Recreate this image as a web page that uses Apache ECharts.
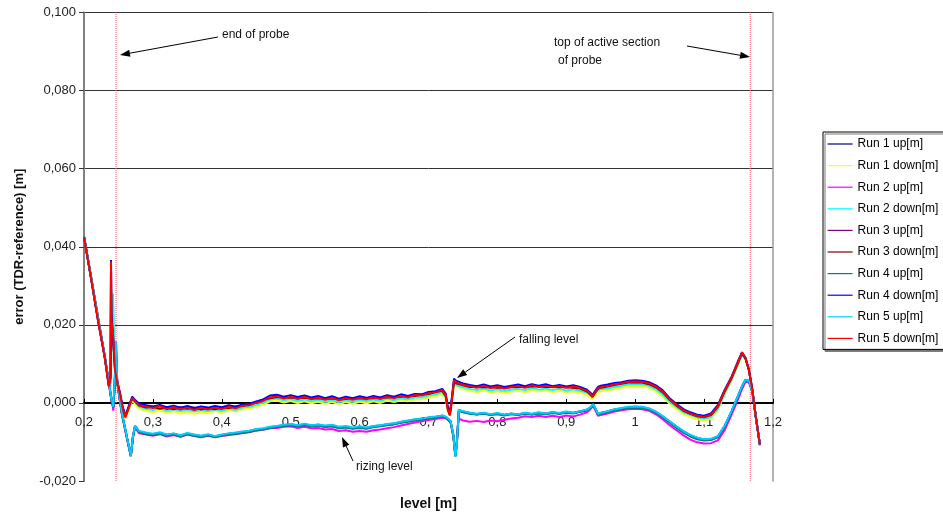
<!DOCTYPE html>
<html><head><meta charset="utf-8">
<script src="https://cdn.jsdelivr.net/npm/echarts@6/dist/echarts.min.js"></script>
<style>html,body{margin:0;padding:0;background:#fff}#c{width:943px;height:516px}</style>
</head><body><div id="c"></div>
<script>
// x values (level [m]) for falling-level ("down") runs
const levelsDown = [0.2,0.21,0.22,0.23,0.236,0.2385,0.2392,0.2398,0.242,0.245,0.248,0.252,0.256,0.26,0.265,0.27,0.275,0.28,
0.29,0.3,0.31,0.32,0.33,0.34,0.35,0.36,0.37,0.38,0.39,0.4,0.41,0.42,0.43,0.44,0.45,0.46,0.47,0.48,0.49,0.5,0.51,0.52,0.53,0.54,0.55,0.56,0.57,0.58,0.59,0.6,0.61,0.62,0.63,0.64,0.65,0.66,0.67,0.68,0.69,0.7,0.71,0.72,
0.725,0.728,0.731,0.734,0.737,
0.74,0.75,0.76,0.77,0.78,0.79,0.8,0.81,0.82,0.83,0.84,0.85,0.86,0.87,0.88,0.89,0.9,0.91,0.92,0.93,
0.935,0.938,0.942,0.946,
0.95,0.96,0.97,0.98,0.99,1,1.01,1.02,1.03,1.04,1.05,1.06,1.07,1.08,1.09,1.1,1.11,1.12,1.13,1.14,1.15,
1.155,1.16,1.165,1.17,1.175,1.181];
// x values (level [m]) for rising-level ("up") runs
const levelsUp = [0.2,0.21,0.22,0.23,0.236,0.24,0.2415,0.2425,0.2445,0.2465,0.248,0.25,0.255,0.26,0.265,0.268,0.271,0.274,0.28,
0.29,0.3,0.31,0.32,0.33,0.34,0.35,0.36,0.37,0.38,0.39,0.4,0.41,0.42,0.43,0.44,0.45,0.46,0.47,0.48,0.49,0.5,0.51,0.52,0.53,0.54,0.55,0.56,0.57,0.58,0.59,0.6,0.61,0.62,0.63,0.64,0.65,0.66,0.67,0.68,0.69,0.7,0.71,0.72,
0.726,0.732,0.736,0.739,0.741,0.744,
0.75,0.76,0.77,0.78,0.79,0.8,0.81,0.82,0.83,0.84,0.85,0.86,0.87,0.88,0.89,0.9,0.91,0.92,0.93,
0.935,0.939,0.942,0.946,
0.95,0.96,0.97,0.98,0.99,1,1.01,1.02,1.03,1.04,1.05,1.06,1.07,1.08,1.09,1.1,1.11,1.12,1.13,1.14,1.15,
1.155,1.16,1.165,1.17,1.175,1.181];

const run1Up = [0.0427,0.0325,0.0222,0.0121,0.0053,0.0006,0.0001,-0.0011,0.0045,0.0130,0.0058,0.0033,-0.0026,-0.0069,-0.0111,-0.0136,-0.0087,-0.0059,-0.0073,
-0.0078,-0.0080,-0.0077,-0.0082,-0.0079,-0.0084,-0.0079,-0.0082,-0.0085,-0.0082,-0.0086,-0.0082,-0.0079,-0.0077,-0.0075,-0.0072,-0.0068,-0.0066,-0.0062,-0.0060,-0.0057,-0.0055,-0.0058,-0.0055,-0.0058,-0.0056,-0.0060,-0.0058,-0.0063,-0.0061,-0.0064,-0.0062,-0.0064,-0.0060,-0.0058,-0.0055,-0.0053,-0.0049,-0.0046,-0.0043,-0.0041,-0.0038,-0.0036,-0.0033,
-0.0037,-0.0047,-0.0082,-0.0136,-0.0108,-0.0019,
-0.0022,-0.0026,-0.0029,-0.0026,-0.0030,-0.0027,-0.0031,-0.0028,-0.0030,-0.0026,-0.0029,-0.0025,-0.0028,-0.0024,-0.0027,-0.0023,-0.0026,-0.0022,-0.0018,
-0.0012,-0.0004,-0.0014,-0.0029,
-0.0026,-0.0022,-0.0017,-0.0014,-0.0011,-0.0010,-0.0011,-0.0015,-0.0023,-0.0035,-0.0048,-0.0061,-0.0073,-0.0083,-0.0090,-0.0094,-0.0093,-0.0086,-0.0059,-0.0021,0.0021,
0.0042,0.0059,0.0056,0.0030,-0.0035,-0.0107];
const run1Down = [0.0425,0.0322,0.0216,0.0119,0.0046,0.0055,0.0300,0.0190,0.0160,0.0078,0.0048,0.0016,-0.0020,-0.0040,-0.0018,0.0006,-0.0005,-0.0015,
-0.0020,-0.0024,-0.0019,-0.0026,-0.0021,-0.0027,-0.0022,-0.0028,-0.0023,-0.0026,-0.0021,-0.0025,-0.0019,-0.0022,-0.0016,-0.0014,-0.0009,-0.0004,0.0004,0.0006,0.0001,0.0005,0.0000,0.0004,-0.0001,0.0003,-0.0002,0.0002,-0.0003,0.0002,-0.0002,0.0003,-0.0001,0.0004,0.0000,0.0006,0.0002,0.0007,0.0004,0.0009,0.0009,0.0014,0.0017,0.0022,
0.0010,-0.0020,-0.0033,0.0004,0.0046,
0.0042,0.0036,0.0031,0.0028,0.0032,0.0027,0.0030,0.0026,0.0029,0.0031,0.0028,0.0033,0.0029,0.0032,0.0028,0.0031,0.0027,0.0030,0.0026,0.0020,
0.0014,0.0012,0.0020,0.0028,
0.0030,0.0032,0.0036,0.0039,0.0042,0.0044,0.0043,0.0039,0.0030,0.0016,-0.0002,-0.0016,-0.0028,-0.0036,-0.0042,-0.0045,-0.0040,-0.0018,0.0022,0.0058,0.0100,
0.0122,0.0111,0.0082,0.0033,-0.0036,-0.0106];
const run2Up = [0.0426,0.0324,0.0221,0.0119,0.0050,0.0003,-0.0005,-0.0020,0.0050,0.0158,0.0065,0.0030,-0.0030,-0.0072,-0.0113,-0.0136,-0.0090,-0.0062,-0.0078,
-0.0081,-0.0084,-0.0080,-0.0086,-0.0082,-0.0087,-0.0081,-0.0085,-0.0088,-0.0084,-0.0088,-0.0085,-0.0082,-0.0080,-0.0077,-0.0075,-0.0071,-0.0069,-0.0065,-0.0064,-0.0061,-0.0060,-0.0064,-0.0061,-0.0065,-0.0064,-0.0068,-0.0067,-0.0072,-0.0070,-0.0074,-0.0072,-0.0074,-0.0070,-0.0068,-0.0065,-0.0062,-0.0058,-0.0054,-0.0050,-0.0047,-0.0044,-0.0041,-0.0038,
-0.0040,-0.0050,-0.0082,-0.0132,-0.0100,-0.0040,
-0.0045,-0.0048,-0.0046,-0.0049,-0.0045,-0.0047,-0.0043,-0.0040,-0.0038,-0.0034,-0.0036,-0.0033,-0.0036,-0.0033,-0.0036,-0.0032,-0.0035,-0.0030,-0.0024,
-0.0016,-0.0008,-0.0018,-0.0033,
-0.0031,-0.0027,-0.0022,-0.0019,-0.0016,-0.0015,-0.0016,-0.0020,-0.0029,-0.0042,-0.0057,-0.0070,-0.0083,-0.0094,-0.0101,-0.0104,-0.0103,-0.0096,-0.0069,-0.0030,0.0012,
0.0035,0.0054,0.0053,0.0029,-0.0036,-0.0108];
const run2Down = [0.0426,0.0323,0.0217,0.0120,0.0048,0.0040,0.0080,0.0120,0.0280,0.0090,0.0050,0.0020,-0.0016,-0.0034,-0.0015,0.0010,0.0000,-0.0010,
-0.0015,-0.0018,-0.0014,-0.0020,-0.0016,-0.0021,-0.0017,-0.0022,-0.0018,-0.0021,-0.0017,-0.0020,-0.0015,-0.0018,-0.0012,-0.0010,-0.0005,0.0001,0.0009,0.0011,0.0007,0.0010,0.0005,0.0009,0.0004,0.0008,0.0003,0.0007,0.0002,0.0007,0.0003,0.0008,0.0004,0.0009,0.0005,0.0011,0.0007,0.0012,0.0009,0.0014,0.0014,0.0019,0.0022,0.0027,
0.0015,-0.0012,-0.0022,0.0014,0.0050,
0.0046,0.0040,0.0036,0.0033,0.0037,0.0032,0.0035,0.0031,0.0034,0.0036,0.0033,0.0038,0.0034,0.0037,0.0033,0.0036,0.0032,0.0035,0.0031,0.0026,
0.0020,0.0018,0.0025,0.0033,
0.0035,0.0037,0.0041,0.0044,0.0047,0.0049,0.0048,0.0044,0.0035,0.0021,0.0003,-0.0011,-0.0024,-0.0031,-0.0037,-0.0040,-0.0036,-0.0015,0.0024,0.0060,0.0102,
0.0124,0.0113,0.0084,0.0034,-0.0036,-0.0107];
const run3Up = [0.0426,0.0324,0.0222,0.0120,0.0054,0.0007,0.0001,-0.0011,0.0050,0.0140,0.0058,0.0032,-0.0027,-0.0069,-0.0111,-0.0136,-0.0086,-0.0060,-0.0074,
-0.0079,-0.0081,-0.0078,-0.0083,-0.0080,-0.0085,-0.0079,-0.0083,-0.0086,-0.0082,-0.0086,-0.0083,-0.0080,-0.0078,-0.0076,-0.0073,-0.0069,-0.0067,-0.0063,-0.0061,-0.0058,-0.0056,-0.0059,-0.0056,-0.0059,-0.0057,-0.0061,-0.0059,-0.0064,-0.0062,-0.0065,-0.0063,-0.0065,-0.0061,-0.0059,-0.0056,-0.0054,-0.0050,-0.0047,-0.0044,-0.0042,-0.0039,-0.0037,-0.0034,
-0.0038,-0.0048,-0.0083,-0.0137,-0.0107,-0.0019,
-0.0023,-0.0027,-0.0029,-0.0027,-0.0030,-0.0028,-0.0031,-0.0028,-0.0030,-0.0027,-0.0029,-0.0026,-0.0028,-0.0025,-0.0027,-0.0024,-0.0026,-0.0022,-0.0018,
-0.0012,-0.0004,-0.0014,-0.0029,
-0.0027,-0.0023,-0.0018,-0.0015,-0.0012,-0.0011,-0.0012,-0.0016,-0.0024,-0.0036,-0.0049,-0.0062,-0.0074,-0.0084,-0.0091,-0.0095,-0.0094,-0.0087,-0.0060,-0.0022,0.0020,
0.0042,0.0059,0.0056,0.0030,-0.0035,-0.0107];
const run3Down = [0.0424,0.0323,0.0215,0.0119,0.0044,0.0065,0.0350,0.0205,0.0175,0.0083,0.0054,0.0024,-0.0013,-0.0036,-0.0011,0.0012,0.0002,-0.0007,
-0.0012,-0.0010,-0.0015,-0.0012,-0.0016,-0.0011,-0.0015,-0.0012,-0.0017,-0.0013,-0.0016,-0.0012,-0.0013,-0.0009,-0.0008,-0.0003,0.0002,0.0008,0.0012,0.0015,0.0013,0.0014,0.0012,0.0013,0.0011,0.0012,0.0010,0.0011,0.0009,0.0010,0.0011,0.0011,0.0012,0.0012,0.0013,0.0014,0.0015,0.0016,0.0017,0.0018,0.0021,0.0023,0.0028,0.0031,
0.0018,-0.0018,-0.0032,0.0006,0.0055,
0.0050,0.0045,0.0041,0.0041,0.0040,0.0040,0.0039,0.0039,0.0040,0.0041,0.0041,0.0042,0.0042,0.0041,0.0041,0.0040,0.0040,0.0039,0.0037,0.0029,
0.0021,0.0015,0.0026,0.0036,
0.0039,0.0042,0.0046,0.0049,0.0052,0.0053,0.0052,0.0048,0.0040,0.0027,0.0008,-0.0007,-0.0020,-0.0028,-0.0034,-0.0037,-0.0031,-0.0010,0.0030,0.0064,0.0106,
0.0127,0.0114,0.0084,0.0033,-0.0036,-0.0106];
const run4Up = [0.0426,0.0324,0.0221,0.0121,0.0052,0.0005,0.0000,-0.0012,0.0040,0.0120,0.0055,0.0030,-0.0028,-0.0070,-0.0112,-0.0135,-0.0088,-0.0061,-0.0075,
-0.0080,-0.0082,-0.0079,-0.0084,-0.0081,-0.0086,-0.0080,-0.0084,-0.0087,-0.0083,-0.0087,-0.0084,-0.0081,-0.0079,-0.0077,-0.0074,-0.0070,-0.0068,-0.0064,-0.0062,-0.0059,-0.0057,-0.0060,-0.0057,-0.0060,-0.0058,-0.0062,-0.0060,-0.0065,-0.0063,-0.0066,-0.0064,-0.0066,-0.0062,-0.0060,-0.0057,-0.0055,-0.0051,-0.0048,-0.0045,-0.0043,-0.0040,-0.0038,-0.0035,
-0.0039,-0.0049,-0.0085,-0.0135,-0.0105,-0.0020,
-0.0024,-0.0028,-0.0030,-0.0028,-0.0031,-0.0029,-0.0032,-0.0029,-0.0031,-0.0028,-0.0030,-0.0027,-0.0029,-0.0026,-0.0028,-0.0025,-0.0027,-0.0023,-0.0019,
-0.0013,-0.0005,-0.0015,-0.0030,
-0.0028,-0.0024,-0.0019,-0.0016,-0.0013,-0.0012,-0.0013,-0.0017,-0.0025,-0.0037,-0.0050,-0.0064,-0.0076,-0.0086,-0.0093,-0.0096,-0.0095,-0.0088,-0.0061,-0.0023,0.0019,
0.0041,0.0058,0.0055,0.0030,-0.0035,-0.0107];
const run4Down = [0.0426,0.0321,0.0216,0.0117,0.0045,0.0070,0.0366,0.0230,0.0170,0.0088,0.0058,0.0028,-0.0008,-0.0033,-0.0008,0.0016,0.0006,-0.0002,
-0.0006,-0.0009,-0.0005,-0.0011,-0.0007,-0.0012,-0.0008,-0.0013,-0.0009,-0.0012,-0.0008,-0.0011,-0.0006,-0.0010,-0.0004,-0.0002,0.0004,0.0009,0.0019,0.0021,0.0016,0.0020,0.0015,0.0019,0.0014,0.0018,0.0012,0.0017,0.0011,0.0016,0.0012,0.0017,0.0013,0.0018,0.0014,0.0020,0.0016,0.0022,0.0018,0.0023,0.0022,0.0028,0.0030,0.0036,
0.0024,-0.0010,-0.0026,0.0014,0.0062,
0.0057,0.0050,0.0046,0.0043,0.0047,0.0042,0.0045,0.0041,0.0044,0.0047,0.0043,0.0048,0.0044,0.0048,0.0043,0.0046,0.0042,0.0045,0.0041,0.0034,
0.0026,0.0020,0.0031,0.0041,
0.0044,0.0047,0.0051,0.0053,0.0057,0.0058,0.0057,0.0053,0.0045,0.0032,0.0012,-0.0003,-0.0016,-0.0024,-0.0030,-0.0033,-0.0027,-0.0005,0.0034,0.0068,0.0110,
0.0130,0.0116,0.0086,0.0035,-0.0034,-0.0108];
const run5Up = [0.0427,0.0325,0.0222,0.0120,0.0055,0.0008,0.0002,-0.0010,0.0060,0.0155,0.0060,0.0035,-0.0025,-0.0068,-0.0110,-0.0137,-0.0085,-0.0058,-0.0072,
-0.0076,-0.0079,-0.0075,-0.0081,-0.0078,-0.0083,-0.0077,-0.0081,-0.0084,-0.0080,-0.0085,-0.0081,-0.0078,-0.0076,-0.0073,-0.0071,-0.0067,-0.0065,-0.0061,-0.0059,-0.0056,-0.0054,-0.0057,-0.0053,-0.0057,-0.0055,-0.0058,-0.0056,-0.0061,-0.0059,-0.0063,-0.0060,-0.0063,-0.0059,-0.0057,-0.0054,-0.0052,-0.0048,-0.0045,-0.0042,-0.0040,-0.0037,-0.0035,-0.0032,
-0.0036,-0.0046,-0.0080,-0.0138,-0.0110,-0.0018,
-0.0021,-0.0025,-0.0028,-0.0025,-0.0029,-0.0026,-0.0030,-0.0027,-0.0029,-0.0025,-0.0028,-0.0024,-0.0027,-0.0023,-0.0026,-0.0022,-0.0025,-0.0021,-0.0017,
-0.0011,-0.0003,-0.0013,-0.0028,
-0.0025,-0.0021,-0.0016,-0.0013,-0.0010,-0.0009,-0.0010,-0.0014,-0.0022,-0.0034,-0.0047,-0.0060,-0.0072,-0.0082,-0.0089,-0.0093,-0.0092,-0.0085,-0.0058,-0.0020,0.0022,
0.0043,0.0060,0.0056,0.0030,-0.0035,-0.0107];
const run5Down = [0.0425,0.0322,0.0214,0.0118,0.0042,0.0062,0.0362,0.0214,0.0180,0.0085,0.0055,0.0025,-0.0012,-0.0037,-0.0012,0.0013,0.0003,-0.0006,
-0.0010,-0.0013,-0.0008,-0.0016,-0.0011,-0.0017,-0.0012,-0.0018,-0.0013,-0.0017,-0.0012,-0.0016,-0.0010,-0.0014,-0.0007,-0.0006,0.0000,0.0005,0.0014,0.0017,0.0011,0.0016,0.0010,0.0015,0.0009,0.0014,0.0008,0.0013,0.0007,0.0012,0.0008,0.0013,0.0009,0.0014,0.0010,0.0016,0.0012,0.0018,0.0014,0.0020,0.0019,0.0025,0.0027,0.0033,
0.0020,-0.0015,-0.0030,0.0010,0.0058,
0.0053,0.0046,0.0043,0.0039,0.0044,0.0038,0.0042,0.0037,0.0041,0.0043,0.0039,0.0045,0.0041,0.0044,0.0040,0.0043,0.0039,0.0042,0.0038,0.0031,
0.0023,0.0016,0.0028,0.0038,
0.0041,0.0043,0.0048,0.0050,0.0054,0.0055,0.0054,0.0050,0.0042,0.0029,0.0009,-0.0006,-0.0019,-0.0027,-0.0033,-0.0036,-0.0030,-0.0008,0.0032,0.0066,0.0108,
0.0129,0.0115,0.0085,0.0034,-0.0035,-0.0107];

const seriesNames = ['Run 1 up[m]','Run 1 down[m]','Run 2 up[m]','Run 2 down[m]','Run 3 up[m]','Run 3 down[m]','Run 4 up[m]','Run 4 down[m]','Run 5 up[m]','Run 5 down[m]'];
const seriesValues = [run1Up, run1Down, run2Up, run2Down, run3Up, run3Down, run4Up, run4Down, run5Up, run5Down];
const seriesLevels = [levelsUp, levelsDown, levelsUp, levelsDown, levelsUp, levelsDown, levelsUp, levelsDown, levelsUp, levelsDown];
const seriesColors = ['#000080','#FFFF00','#FF00FF','#00FFFF','#800080','#800000','#008080','#0000FF','#00CCFF','#FF0000'];
// probe markers: end of probe, top of active section
const markerLevels = [0.2465, 1.167];
const Y_MIN = -0.02, Y_MAX = 0.1;

const FONT = '"Liberation Sans", Arial, sans-serif';
const chart = echarts.init(document.getElementById('c'), null, {renderer: 'canvas'});

function arrow(x1, y1, x2, y2) {
  const dx = x2 - x1, dy = y2 - y1, len = Math.sqrt(dx*dx + dy*dy);
  const ux = dx/len, uy = dy/len, hl = 10, hw = 3.5;
  const bx = x2 - ux*hl, by = y2 - uy*hl;
  return [
    {type: 'line', shape: {x1: x1, y1: y1, x2: bx, y2: by}, style: {stroke: '#000', lineWidth: 1}, z: 100},
    {type: 'polygon', shape: {points: [[x2, y2], [bx - uy*hw, by + ux*hw], [bx + uy*hw, by - ux*hw]]}, style: {fill: '#000'}, z: 100}
  ];
}
function label(text, x, y) {
  return {type: 'text', x: x, y: y, style: {text: text, font: '12px ' + FONT, fill: '#111', textVerticalAlign: 'middle'}, z: 100};
}

const series = markerLevels.map((v, i) => ({
  name: 'marker' + i, type: 'line', symbol: 'none', silent: true, animation: false, z: 1,
  lineStyle: {color: '#FF6060', type: [1, 1], width: 1},
  data: [[v, Y_MIN], [v, Y_MAX]]
})).concat(seriesNames.map((name, i) => ({
  name: name,
  type: 'line',
  symbol: 'none',
  xAxisIndex: 0,
  animation: false,
  z: 2,
  lineStyle: {width: 2, color: seriesColors[i]},
  itemStyle: {color: seriesColors[i]},
  data: seriesLevels[i].map((x, k) => [x, seriesValues[i][k]])
})));

const fmt = v => String(Math.round(v*10)/10).replace('.', ',');

chart.setOption({
  animation: false,
  backgroundColor: '#fff',
  textStyle: {fontFamily: FONT},
  grid: {left: 84, right: 170, top: 12.5, bottom: 35, containLabel: false, outerBoundsMode: 'none'},
  legend: {
    data: seriesNames,
    orient: 'vertical', left: 823, top: 132,
    padding: [6, 8, 5, 4],
    itemWidth: 25, itemHeight: 14, itemGap: 9.6,
    itemStyle: {opacity: 0},
    lineStyle: {width: 1.2},
    textStyle: {fontSize: 12, color: '#000', fontFamily: FONT},
    borderColor: '#000', borderWidth: 1, backgroundColor: '#fff',
    shadowColor: '#777', shadowOffsetX: 2, shadowOffsetY: 2, shadowBlur: 0,
    selectedMode: false
  },
  xAxis: [{
    type: 'value', min: 0.2, max: 1.2, interval: 0.1,
    axisLine: {onZero: true, lineStyle: {color: '#000', width: 2}},
    axisTick: {show: true, inside: true, length: 4, lineStyle: {color: '#000'}},
    axisLabel: {show: false},
    splitLine: {show: false}
  }, {
    type: 'value', min: 0.2, max: 1.2, interval: 0.1, position: 'bottom', offset: -78,
    name: 'level [m]', nameLocation: 'middle', nameGap: 94,
    nameTextStyle: {fontWeight: 'bold', fontSize: 14, color: '#111', fontFamily: FONT},
    axisLine: {show: false, onZero: false},
    axisTick: {show: false},
    axisLabel: {formatter: fmt, fontSize: 13, color: '#222', margin: 13, fontFamily: FONT},
    splitLine: {show: false}
  }],
  yAxis: [{
    type: 'value', min: Y_MIN, max: Y_MAX, interval: 0.02,
    name: 'error (TDR-reference) [m]', nameLocation: 'middle', nameGap: 58, nameRotate: 90,
    nameTextStyle: {fontWeight: 'bold', fontSize: 13, color: '#111', fontFamily: FONT},
    axisLine: {show: true, onZero: false, lineStyle: {color: '#808080', width: 2}},
    axisTick: {show: true, length: 5, lineStyle: {color: '#333'}},
    axisLabel: {formatter: v => v.toFixed(3).replace('.', ','), fontSize: 13, color: '#222', margin: 8, fontFamily: FONT},
    splitLine: {show: true, showMinLine: false, lineStyle: {color: '#333', width: 1}}
  }, {
    type: 'value', min: Y_MIN, max: Y_MAX, interval: 0.02, position: 'right',
    axisLine: {show: true, onZero: false, lineStyle: {color: '#999', width: 1.5}},
    axisTick: {show: false}, axisLabel: {show: false}, splitLine: {show: false}
  }],
  series: series,
  graphic: [].concat(
    arrow(218, 37, 120, 55),
    [label('end of probe', 222, 35)],
    arrow(687, 46, 750, 57),
    [label('top of active section', 554, 43), label('of probe', 558, 61)],
    arrow(515, 337, 457, 378),
    [label('falling level', 519, 340)],
    arrow(353, 461, 342, 437),
    [label('rizing level', 356, 467)]
  )
});
</script>
</body></html>
